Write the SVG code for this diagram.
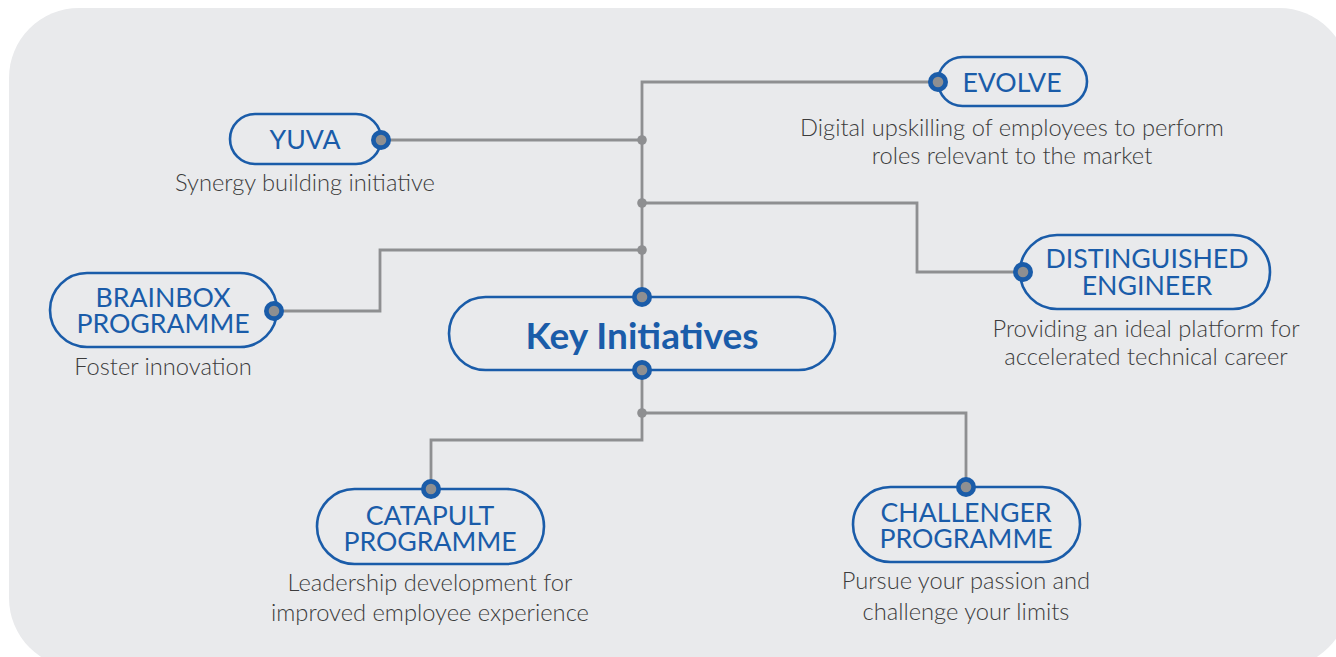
<svg xmlns="http://www.w3.org/2000/svg" width="1336" height="657" viewBox="0 0 1336 657">
  <defs>
    <style>
      .bg { fill: #e9eaec; }
      .pill { fill: none; stroke: #1a5ca9; stroke-width: 2.6; }
      .label { font-family: Lato, "Liberation Sans", sans-serif; font-size: 26.7px; fill: #1a5ca9; text-anchor: middle; }
      .title { font-family: Lato, "Liberation Sans", sans-serif; font-size: 37px; font-weight: 700; fill: #1a5ca9; text-anchor: middle; }
      .desc { font-family: Lato, "Liberation Sans", sans-serif; font-size: 23.7px; font-weight: 300; fill: #3c3c3c; text-anchor: middle; }
      .wire { fill: none; stroke: #8e8f91; stroke-width: 2.8; }
      .joint { fill: #8e8f91; }
      .port-o { fill: #1a5ca9; }
      .port-i { fill: #8e8f91; }
    </style>
    <!-- connection port: blue ring with grey core -->
    <g id="port">
      <circle class="port-o" r="10"/>
      <circle class="port-i" r="5.3"/>
    </g>
  </defs>

  <rect class="bg" x="9" y="8" width="1340" height="660" rx="70"/>

  <g id="connectors">
    <!-- trunk above the centre node -->
    <polyline class="wire" points="938,82 642,82 642,297"/>
    <line class="wire" x1="381" y1="140" x2="642" y2="140"/>
    <polyline class="wire" points="642,203 917,203 917,272 1023,272"/>
    <polyline class="wire" points="642,250 380,250 380,311 274,311"/>
    <!-- trunk below the centre node -->
    <polyline class="wire" points="642,370 642,440 431,440 431,489"/>
    <polyline class="wire" points="642,413 966,413 966,487"/>
    <circle class="joint" cx="642" cy="140" r="4.8"/>
    <circle class="joint" cx="642" cy="203" r="4.8"/>
    <circle class="joint" cx="642" cy="250" r="4.8"/>
    <circle class="joint" cx="642" cy="413" r="4.8"/>
  </g>

  <g id="key-initiatives">
    <rect class="pill" x="449" y="297" width="386" height="73" rx="36.5"/>
    <text class="title" x="642" y="349">Key Initiatives</text>
    <use href="#port" x="642" y="297"/>
    <use href="#port" x="642" y="370"/>
  </g>

  <g id="yuva">
    <rect class="pill" x="230" y="114" width="151" height="50" rx="25"/>
    <text class="label" x="305" y="149">YUVA</text>
    <text class="desc" x="305" y="191">Synergy building initiative</text>
    <use href="#port" x="381" y="140"/>
  </g>

  <g id="evolve">
    <rect class="pill" x="938" y="57" width="149" height="49" rx="24.5"/>
    <text class="label" x="1012" y="92">EVOLVE</text>
    <text class="desc" x="1012" y="136">Digital upskilling of employees to perform</text>
    <text class="desc" x="1012" y="164">roles relevant to the market</text>
    <use href="#port" x="938" y="82"/>
  </g>

  <g id="distinguished-engineer">
    <rect class="pill" x="1020" y="235" width="250" height="74" rx="37"/>
    <text class="label" x="1147" y="268">DISTINGUISHED</text>
    <text class="label" x="1147" y="295">ENGINEER</text>
    <text class="desc" x="1146" y="337">Providing an ideal platform for</text>
    <text class="desc" x="1146" y="365">accelerated technical career</text>
    <use href="#port" x="1023" y="272"/>
  </g>

  <g id="brainbox">
    <rect class="pill" x="50" y="273" width="227" height="74" rx="37"/>
    <text class="label" x="163" y="307">BRAINBOX</text>
    <text class="label" x="163" y="333">PROGRAMME</text>
    <text class="desc" x="163" y="375">Foster innovation</text>
    <use href="#port" x="274" y="311"/>
  </g>

  <g id="catapult">
    <rect class="pill" x="317" y="489" width="227" height="75" rx="37.5"/>
    <text class="label" x="430" y="525">CATAPULT</text>
    <text class="label" x="430" y="551">PROGRAMME</text>
    <text class="desc" x="430" y="591">Leadership development for</text>
    <text class="desc" x="430" y="621">improved employee experience</text>
    <use href="#port" x="431" y="489"/>
  </g>

  <g id="challenger">
    <rect class="pill" x="853" y="487" width="227" height="75" rx="37.5"/>
    <text class="label" x="966" y="522">CHALLENGER</text>
    <text class="label" x="966" y="548">PROGRAMME</text>
    <text class="desc" x="966" y="589">Pursue your passion and</text>
    <text class="desc" x="966" y="620">challenge your limits</text>
    <use href="#port" x="966" y="487"/>
  </g>
</svg>
